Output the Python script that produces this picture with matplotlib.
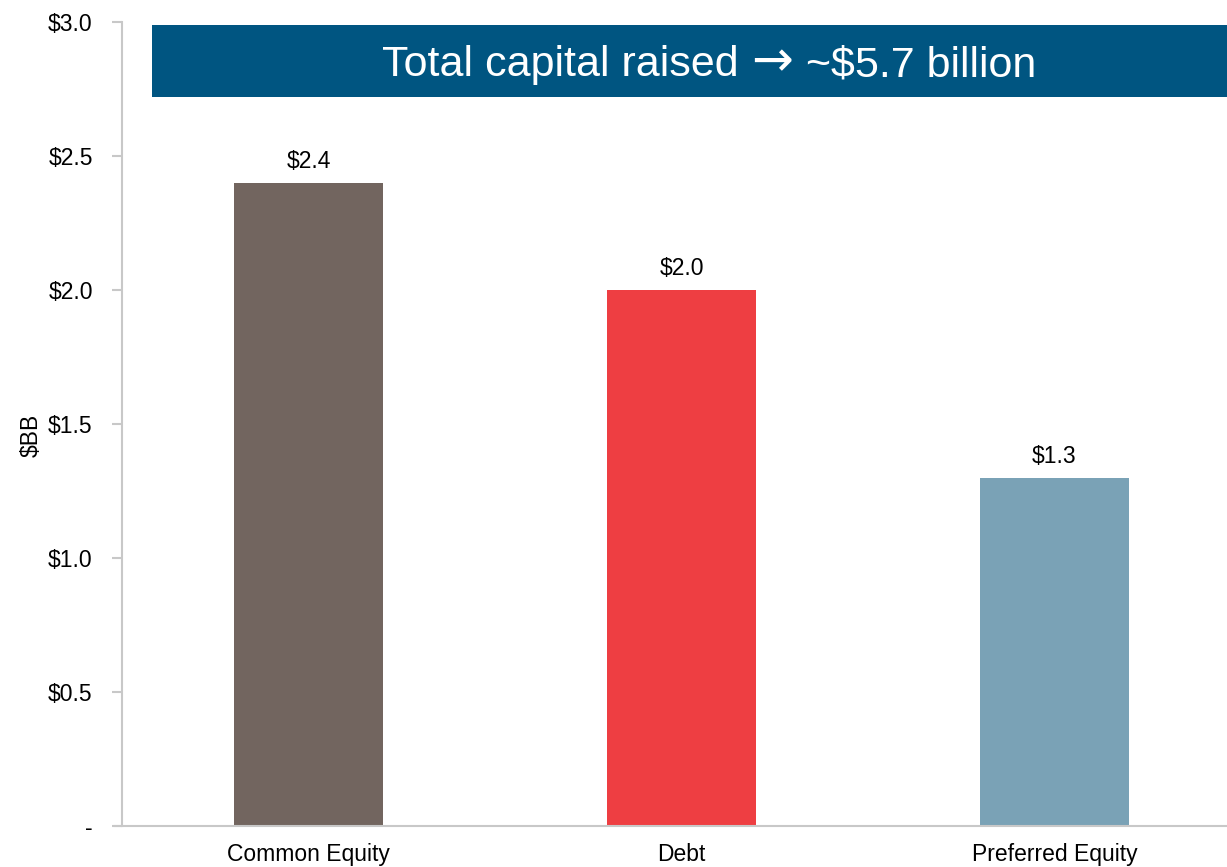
import matplotlib.pyplot as plt
from matplotlib.patches import Rectangle
from matplotlib.offsetbox import TextArea, HPacker, AnchoredOffsetbox

plt.rcParams['font.family'] = ['Liberation Sans', 'DejaVu Sans']

# capital raised by type, $ billions
categories = ['Common Equity', 'Debt', 'Preferred Equity']
amounts = [2.4, 2.0, 1.3]
bar_colors = ['#72655f', '#ee3e42', '#7aa2b6']
y_ticks = [0, 0.5, 1.0, 1.5, 2.0, 2.5, 3.0]
y_labels = ['-', '$0.5', '$1.0', '$1.5', '$2.0', '$2.5', '$3.0']
banner_parts = ['Total capital raised', '\u2192', '~$5.7 billion']

fs = 16.5

fig = plt.figure(figsize=(12.27, 8.67), dpi=100)
ax = fig.add_axes([0.0994, 0.0473, 0.912, 0.9273])

# bars with value labels on top
x = range(len(categories))
bars = ax.bar(x, amounts, width=0.4, color=bar_colors)
for bar, val in zip(bars, amounts):
    ax.annotate(f'${val:.1f}', (bar.get_x() + bar.get_width() / 2, val),
                xytext=(0, 7), textcoords='offset points',
                ha='center', va='bottom', fontsize=fs)

ax.set_xlim(-0.5, 2.5)
ax.set_ylim(0, 3.0)
ax.set_xticks(list(x))
ax.set_xticklabels(categories, fontsize=fs)
ax.set_yticks(y_ticks)
ax.set_yticklabels(y_labels, fontsize=fs)
ax.tick_params(axis='x', length=0, pad=12)
ax.tick_params(axis='y', length=7, width=1.5, color='#c8c8c8', pad=14)

ax.set_ylabel('$BB', fontsize=fs)
ax.yaxis.set_label_coords(-0.071, 0.486)

# axis styling
for side in ['top', 'right']:
    ax.spines[side].set_visible(False)
for side in ['left', 'bottom']:
    ax.spines[side].set_color('#c8c8c8')
    ax.spines[side].set_linewidth(1.5)
ax.spines['bottom'].set_bounds(-0.52, 2.5)

# header banner
fig.patches.append(Rectangle((0.1239, 0.8881), 0.88, 0.083,
                             transform=fig.transFigure, facecolor='#005581',
                             edgecolor='none', zorder=3))
title_props = dict(color='white', fontsize=31, family='Liberation Sans')
arrow_props = dict(color='white', fontsize=36, family='DejaVu Sans')
pieces = [TextArea(banner_parts[0], textprops=title_props),
          TextArea(banner_parts[1], textprops=arrow_props),
          TextArea(banner_parts[2], textprops=title_props)]
row = HPacker(children=pieces, align='baseline', pad=0, sep=9)
title_box = AnchoredOffsetbox(loc='center', child=row, pad=0, frameon=False,
                              bbox_to_anchor=(0.578, 0.928),
                              bbox_transform=fig.transFigure, borderpad=0)
title_box.set_zorder(4)
fig.add_artist(title_box)

plt.savefig('out.png', dpi=100)
